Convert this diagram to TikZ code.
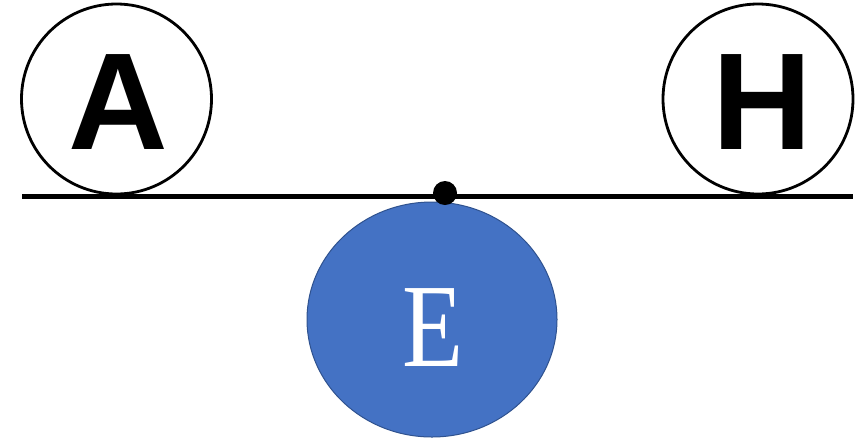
\documentclass[tikz,border=0pt]{standalone}
\usepackage{fontspec}
\usetikzlibrary{shapes.geometric}
\newfontfamily\sansbold{Liberation Sans}[BoldFont={Liberation Sans Bold}]
\newfontfamily\serifE{Liberation Serif}
\definecolor{eblue}{HTML}{4472C4}
\definecolor{eedge}{HTML}{2F528F}
\begin{document}
\begin{tikzpicture}[x=1pt,y=-1pt,
  ring/.style={draw=black,line width=2.8pt,circle,minimum size=190pt,inner sep=0pt},
  bigletter/.style={inner sep=0pt,font=\sansbold\bfseries\fontsize{138}{140}\selectfont},
  ball/.style={ellipse,fill=eblue,draw=eedge,line width=1pt,minimum width=250pt,minimum height=235pt,inner sep=0pt},
  pivot/.style={circle,fill=black,minimum size=24pt,inner sep=0pt}]
\useasboundingbox (0,0) rectangle (864,440);
\node[ring] (A) at (116.5,99) {};
\node[ring] (H) at (758,99) {};
\node[bigletter] (At) at (118.5,102.5) {A};
\node[bigletter] (Ht) at (762,102.5) {H};
\node[ball] (E) at (432,319.5) {};
\node[inner sep=0pt,text=white,font=\serifE\fontsize{119}{121}\selectfont,xscale=0.84] (Et) at (433.5,327.5) {E};
\coordinate (L) at (22,196.5);
\coordinate (R) at (853,196.5);
\draw[line width=5.5pt] (L) -- (R);
\node[pivot] (P) at (445,193) {};
\end{tikzpicture}
\end{document}
